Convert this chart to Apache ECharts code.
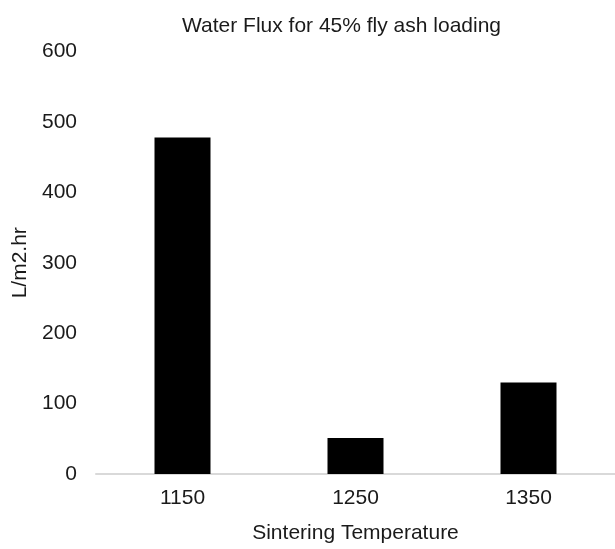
<!DOCTYPE html>
<html>
<head>
<meta charset="utf-8">
<script src="https://cdn.jsdelivr.net/npm/echarts@6/dist/echarts.min.js"></script>
<style>
	html, body { margin: 0; padding: 0; background: #fff; }
	#chart { width: 615px; height: 549px; }
</style>
</head>
<body>
<div id="chart"></div>
<script>
// sintering temperatures on the x axis
const categories = ['1150', '1250', '1350']
// water flux, L/m2.hr
const fluxValues = [478, 51, 130]
const yTicks = [0, 100, 200, 300, 400, 500, 600]

const font = '"Liberation Sans", Arial, sans-serif'
const textColor = '#1a1a1a'

const myChart = echarts.init(document.getElementById('chart'))
const option = {
	animation: false,
	backgroundColor: '#ffffff',
	title: {
		text: 'Water Flux for 45% fly ash loading',
		left: 182,
		top: 16,
		padding: 0,
		textStyle: {
			fontFamily: font,
			fontSize: 21,
			fontWeight: 'normal',
			color: textColor
		}
	},
	grid: {
		left: 96,
		top: 51.5,
		width: 531,
		height: 431,
		containLabel: false
	},
	xAxis: {
		type: 'category',
		data: categories,
		name: 'Sintering Temperature',
		nameLocation: 'middle',
		nameGap: 49,
		nameTextStyle: {
			fontFamily: font,
			fontSize: 21,
			color: textColor
		},
		axisLine: {
			show: true,
			lineStyle: { color: '#d9d9d9', width: 2 }
		},
		axisTick: { show: false },
		axisLabel: {
			margin: 14,
			fontFamily: font,
			fontSize: 21,
			color: textColor
		}
	},
	yAxis: {
		type: 'value',
		min: yTicks[0],
		max: yTicks[yTicks.length - 1],
		interval: yTicks[1] - yTicks[0],
		name: 'L/m2.hr',
		nameLocation: 'middle',
		nameGap: 57,
		nameTextStyle: {
			fontFamily: font,
			fontSize: 21,
			color: textColor
		},
		axisLine: { show: false },
		axisTick: { show: false },
		splitLine: { show: false },
		axisLabel: {
			margin: 19,
			fontFamily: font,
			fontSize: 21,
			color: textColor
		}
	},
	series: [
		{
			type: 'bar',
			data: fluxValues,
			barWidth: 56,
			itemStyle: {
				color: '#000000'
			}
		}
	]
}
myChart.setOption(option)
</script>
</body>
</html>
